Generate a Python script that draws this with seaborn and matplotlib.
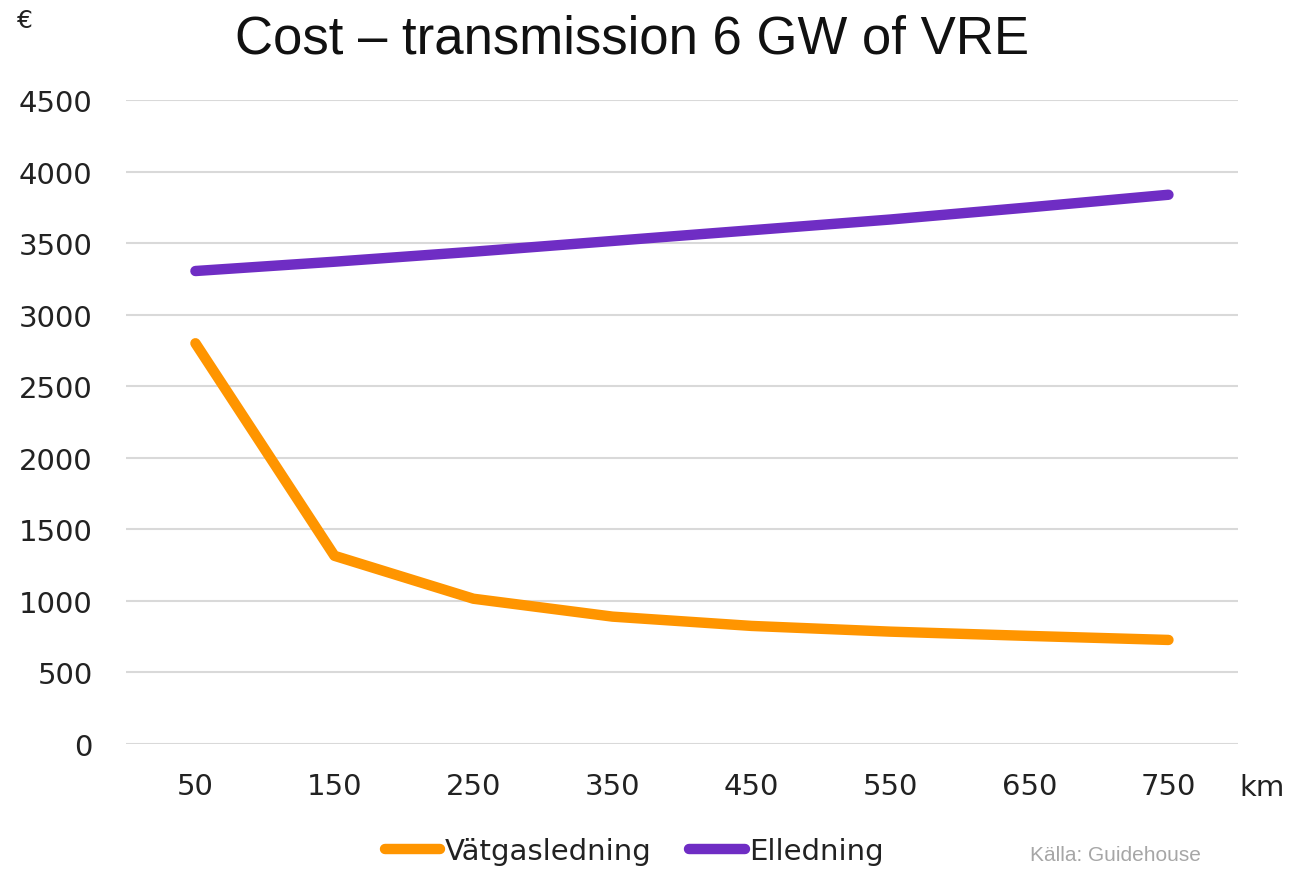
import pandas as pd
import matplotlib.pyplot as plt
import seaborn as sns
from matplotlib.lines import Line2D

# distances (km) and cost per line type (€)
distance_km = [50, 150, 250, 350, 450, 550, 650, 750]
vatgas = [2800, 1315, 1015, 890, 825, 785, 755, 727]
elledning = [3305, 3370, 3440, 3515, 3590, 3665, 3750, 3838]
series_names = ['Vätgasledning', 'Elledning']
series_colors = ['#ff9500', '#6f2dc4']
y_ticks = [0, 500, 1000, 1500, 2000, 2500, 3000, 3500, 4000, 4500]


def main():
    df = pd.DataFrame({
        'km': distance_km * 2,
        'cost': vatgas + elledning,
        'serie': [series_names[0]] * len(vatgas) + [series_names[1]] * len(elledning),
    })

    sns.set_style('white')
    plt.rcParams['font.family'] = ['DejaVu Sans']

    fig = plt.figure(figsize=(12.89, 8.70), dpi=100)
    ax = fig.add_axes([0.0977, 0.1437, 0.8627, 0.7402])

    sns.lineplot(data=df, x='km', y='cost', hue='serie', hue_order=series_names,
                 palette=series_colors, linewidth=7.5, ax=ax, legend=False,
                 solid_capstyle='round', solid_joinstyle='round')

    ax.set_xlim(0, 800)
    ax.set_ylim(0, 4500)
    ax.set_xticks(distance_km)
    ax.set_xticklabels([str(d) for d in distance_km])
    ax.set_yticks(y_ticks)
    ax.set_yticklabels([str(t) for t in y_ticks])
    ax.tick_params(axis='both', length=0, labelsize=21, labelcolor='#222222')
    ax.tick_params(axis='x', pad=20)
    ax.tick_params(axis='y', pad=24)
    ax.grid(axis='y', color='#d9d9d9', linewidth=1.5)
    ax.set_axisbelow(True)
    for s in ax.spines.values():
        s.set_visible(False)
    ax.set_xlabel('')
    ax.set_ylabel('')

    fig.text(0.49, 0.955, 'Cost – transmission 6 GW of VRE', ha='center', va='center',
             fontsize=38, color='#111111', family=['Liberation Sans', 'DejaVu Sans'])
    fig.text(0.019, 0.976, '€', ha='center', va='center', fontsize=18, color='#222222')
    fig.text(0.979, 0.094, 'km', ha='center', va='center', fontsize=21, color='#222222')
    fig.text(0.865, 0.017, 'Källa: Guidehouse', ha='center', va='center', fontsize=15,
             color='#a6a6a6', family=['Liberation Sans', 'DejaVu Sans'])

    handles = [Line2D([0], [0], color=c, linewidth=7.5, solid_capstyle='round')
               for c in series_colors]
    fig.legend(handles, series_names, loc='center', bbox_to_anchor=(0.492, 0.021),
               ncol=2, frameon=False, fontsize=21, handlelength=1.9,
               handletextpad=0.15, columnspacing=1.3, labelcolor='#222222')

    fig.savefig('out.png', dpi=100)
    plt.close(fig)


if __name__ == "__main__":
    main()
